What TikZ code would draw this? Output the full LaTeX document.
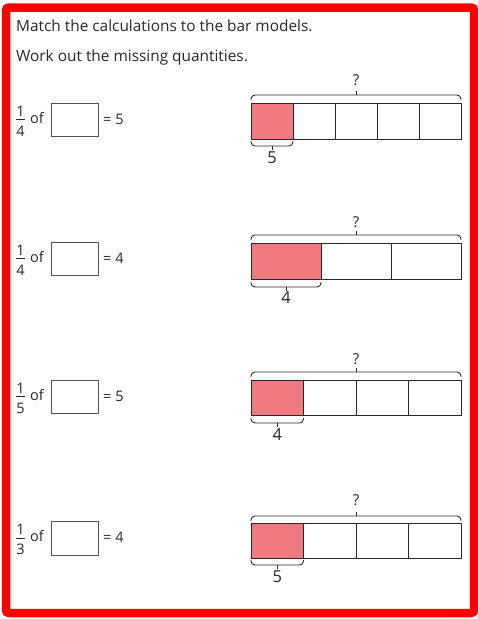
\documentclass[tikz,border=0pt]{standalone}
\usepackage{fontspec}
\setmainfont{Open Sans}
\definecolor{bordred}{RGB}{255,0,0}
\definecolor{barpink}{RGB}{240,122,128}
\definecolor{ink}{RGB}{40,40,40}
\begin{document}
\begin{tikzpicture}[x=1pt,y=-1pt,
  txt/.style={inner sep=0pt,text=ink,font=\fontsize{15.4}{18}\selectfont},
  lbl/.style={inner sep=0pt,text=ink,font=\fontsize{14.5}{17}\selectfont},
  qlbl/.style={inner sep=0pt,text=ink,font=\fontsize{15}{17}\selectfont},
  plbl/.style={inner sep=0pt,text=ink,font=\fontsize{16.5}{19}\selectfont},
  frc/.style={inner sep=0pt,text=ink,font=\fontsize{14.5}{17}\selectfont},
  ansbox/.style={draw=ink!80,line width=0.9pt},
  cell/.style={draw=ink,line width=0.9pt},
  brace/.style={draw=ink,line width=0.9pt,rounded corners=4pt}]
\useasboundingbox (0,0) rectangle (478,619);
\fill[white] (0,0) rectangle (478,619);
\draw[bordred,line width=8.5pt,rounded corners=3pt] (6,7.5) rectangle (474,613);
\node[txt,anchor=base west] (t1) at (16,31) {Match the calculations to the bar models.};
\node[txt,anchor=base west] (t2) at (16,61) {Work out the missing quantities.};
% left column: fraction rows  {top of box / bottom of box / denominator / result}
\foreach \i/\yt/\yb/\den/\res in {1/103/136/4/5, 2/242/275/4/4, 3/380/413/5/5, 4/521/555/3/4}{
  \pgfmathsetmacro{\yc}{(\yt+\yb)/2}
  \node[frc,anchor=base] (num\i) at (20.5,\yc-3.5) {1};
  \node[frc,anchor=base] (den\i) at (20.5,\yc+16.5) {\den};
  \draw[ink,line width=0.9pt] (16,\yc) -- (25,\yc);
  \node[lbl,anchor=base west] (of\i) at (30,\yc+3.5) {of};
  \draw[ansbox] (51,\yt) rectangle (98,\yb);
  \node[lbl,anchor=base west] (eq\i) at (103,\yc+4.5) {= \res};
}
% bar models {bar top / bar bottom / cells / top brace / bottom brace / part label / ? y / label y}
\foreach \i/\bt/\bb/\n/\tb/\bbr/\part/\qy/\ly in {1/103/139/5/95/146/5/80/158, 2/243/279/3/235/287/4/222/298, 3/380/415/4/372/423/4/359/435, 4/523/558/4/516/565/5/500/577}{
  \pgfmathsetmacro{\w}{210/\n}
  \pgfmathsetmacro{\xe}{251+\w}
  \fill[barpink] (251,\bt) rectangle (\xe,\bb);
  \foreach \k in {1,...,\n}{
    \draw[cell] ({251+(\k-1)*\w},\bt) rectangle ({251+\k*\w},\bb);
  }
  \draw[brace] (251,\tb+5) -- (251,\tb) -- (461,\tb) -- (461,\tb+5);
  \draw[ink,line width=0.9pt] (356,\tb) -- (356,\tb-4);
  \node[qlbl,anchor=center] (q\i) at (356,\qy) {?};
  \draw[brace] (251,\bbr-5) -- (251,\bbr) -- (\xe,\bbr) -- (\xe,\bbr-5);
  \draw[ink,line width=0.9pt] ({251+\w/2},\bbr) -- ({251+\w/2},\bbr+4);
  \node[plbl,anchor=center] (p\i) at ({251+\w/2},\ly) {\part};
}
\end{tikzpicture}
\end{document}
